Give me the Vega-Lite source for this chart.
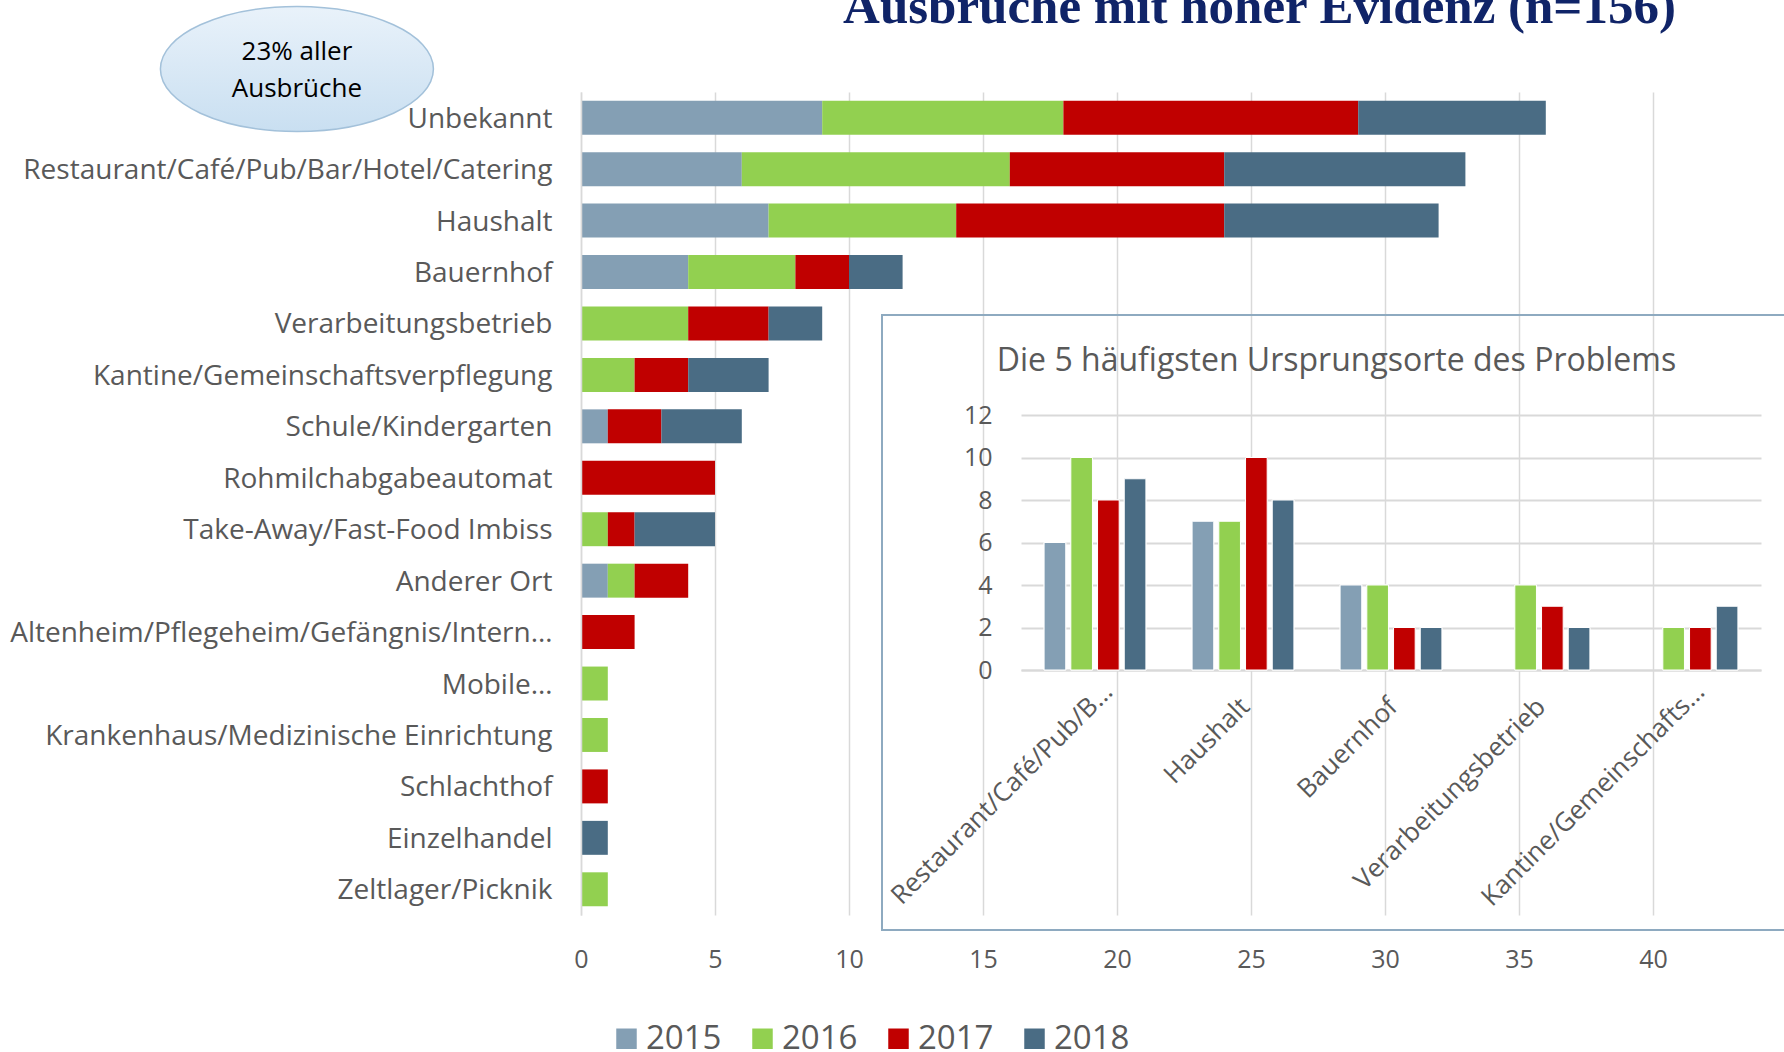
{
  "$schema": "https://vega.github.io/schema/vega-lite/v6.json",
  "width": 1072,
  "height": 823,
  "autosize": {"type": "none"},
  "padding": {"left": 581, "top": 92, "right": 131, "bottom": 137},
  "background": "white",
  "config": {"view": {"stroke": null}, "font": "Open Sans"},
  "datasets": {
    "main": [
      {"ort": "Unbekannt", "jahr": "2015", "n": 9},
      {"ort": "Unbekannt", "jahr": "2016", "n": 9},
      {"ort": "Unbekannt", "jahr": "2017", "n": 11},
      {"ort": "Unbekannt", "jahr": "2018", "n": 7},
      {"ort": "Restaurant/Café/Pub/Bar/Hotel/Catering", "jahr": "2015", "n": 6},
      {"ort": "Restaurant/Café/Pub/Bar/Hotel/Catering", "jahr": "2016", "n": 10},
      {"ort": "Restaurant/Café/Pub/Bar/Hotel/Catering", "jahr": "2017", "n": 8},
      {"ort": "Restaurant/Café/Pub/Bar/Hotel/Catering", "jahr": "2018", "n": 9},
      {"ort": "Haushalt", "jahr": "2015", "n": 7},
      {"ort": "Haushalt", "jahr": "2016", "n": 7},
      {"ort": "Haushalt", "jahr": "2017", "n": 10},
      {"ort": "Haushalt", "jahr": "2018", "n": 8},
      {"ort": "Bauernhof", "jahr": "2015", "n": 4},
      {"ort": "Bauernhof", "jahr": "2016", "n": 4},
      {"ort": "Bauernhof", "jahr": "2017", "n": 2},
      {"ort": "Bauernhof", "jahr": "2018", "n": 2},
      {"ort": "Verarbeitungsbetrieb", "jahr": "2016", "n": 4},
      {"ort": "Verarbeitungsbetrieb", "jahr": "2017", "n": 3},
      {"ort": "Verarbeitungsbetrieb", "jahr": "2018", "n": 2},
      {"ort": "Kantine/Gemeinschaftsverpflegung", "jahr": "2016", "n": 2},
      {"ort": "Kantine/Gemeinschaftsverpflegung", "jahr": "2017", "n": 2},
      {"ort": "Kantine/Gemeinschaftsverpflegung", "jahr": "2018", "n": 3},
      {"ort": "Schule/Kindergarten", "jahr": "2015", "n": 1},
      {"ort": "Schule/Kindergarten", "jahr": "2017", "n": 2},
      {"ort": "Schule/Kindergarten", "jahr": "2018", "n": 3},
      {"ort": "Rohmilchabgabeautomat", "jahr": "2017", "n": 5},
      {"ort": "Take-Away/Fast-Food Imbiss", "jahr": "2016", "n": 1},
      {"ort": "Take-Away/Fast-Food Imbiss", "jahr": "2017", "n": 1},
      {"ort": "Take-Away/Fast-Food Imbiss", "jahr": "2018", "n": 3},
      {"ort": "Anderer Ort", "jahr": "2015", "n": 1},
      {"ort": "Anderer Ort", "jahr": "2016", "n": 1},
      {"ort": "Anderer Ort", "jahr": "2017", "n": 2},
      {"ort": "Altenheim/Pflegeheim/Gefängnis/Intern…", "jahr": "2017", "n": 2},
      {"ort": "Mobile…", "jahr": "2016", "n": 1},
      {"ort": "Krankenhaus/Medizinische Einrichtung", "jahr": "2016", "n": 1},
      {"ort": "Schlachthof", "jahr": "2017", "n": 1},
      {"ort": "Einzelhandel", "jahr": "2018", "n": 1},
      {"ort": "Zeltlager/Picknik", "jahr": "2016", "n": 1}
    ],
    "top5": [
      {"ort": "Restaurant/Café/Pub/B…", "jahr": "2015", "n": 6},
      {"ort": "Restaurant/Café/Pub/B…", "jahr": "2016", "n": 10},
      {"ort": "Restaurant/Café/Pub/B…", "jahr": "2017", "n": 8},
      {"ort": "Restaurant/Café/Pub/B…", "jahr": "2018", "n": 9},
      {"ort": "Haushalt", "jahr": "2015", "n": 7},
      {"ort": "Haushalt", "jahr": "2016", "n": 7},
      {"ort": "Haushalt", "jahr": "2017", "n": 10},
      {"ort": "Haushalt", "jahr": "2018", "n": 8},
      {"ort": "Bauernhof", "jahr": "2015", "n": 4},
      {"ort": "Bauernhof", "jahr": "2016", "n": 4},
      {"ort": "Bauernhof", "jahr": "2017", "n": 2},
      {"ort": "Bauernhof", "jahr": "2018", "n": 2},
      {"ort": "Verarbeitungsbetrieb", "jahr": "2016", "n": 4},
      {"ort": "Verarbeitungsbetrieb", "jahr": "2017", "n": 3},
      {"ort": "Verarbeitungsbetrieb", "jahr": "2018", "n": 2},
      {"ort": "Kantine/Gemeinschafts…", "jahr": "2016", "n": 2},
      {"ort": "Kantine/Gemeinschafts…", "jahr": "2017", "n": 2},
      {"ort": "Kantine/Gemeinschafts…", "jahr": "2018", "n": 3}
    ]
  },
  "resolve": {
    "scale": {"x": "independent", "y": "independent"},
    "axis": {"x": "independent", "y": "independent"}
  },
  "layer": [
    {
      "layer": [
        {
          "data": {"name": "main"},
          "mark": {"type": "bar"},
          "encoding": {
            "y": {
              "field": "ort", "type": "nominal", "sort": null,
              "scale": {
                "domain": ["Unbekannt", "Restaurant/Café/Pub/Bar/Hotel/Catering", "Haushalt", "Bauernhof", "Verarbeitungsbetrieb", "Kantine/Gemeinschaftsverpflegung", "Schule/Kindergarten", "Rohmilchabgabeautomat", "Take-Away/Fast-Food Imbiss", "Anderer Ort", "Altenheim/Pflegeheim/Gefängnis/Intern…", "Mobile…", "Krankenhaus/Medizinische Einrichtung", "Schlachthof", "Einzelhandel", "Zeltlager/Picknik"],
                "paddingInner": 0.34, "paddingOuter": 0.17
              },
              "axis": {
                "orient": "left", "title": null, "domain": true, "domainColor": "#D9D9D9", "domainWidth": 1.5,
                "ticks": false, "tickSize": 0, "grid": false, "labelPadding": 29, "labelFontSize": 28, "labelColor": "#595959",
                "labelLimit": 800, "labelOffset": 2, "zindex": 1
              }
            },
            "x": {
              "field": "n", "type": "quantitative", "stack": "zero",
              "scale": {"domain": [0, 40], "nice": false, "zero": true},
              "axis": {
                "orient": "bottom", "values": [0, 5, 10, 15, 20, 25, 30, 35, 40], "grid": true, "gridColor": "#D9D9D9", "gridWidth": 1.5,
                "domain": false, "ticks": false, "tickSize": 0, "labelFlush": false, "labelPadding": 32, "labelFontSize": 25, "labelColor": "#595959",
                "title": "Ausbrüche mit hoher Evidenz (n=156)", "titleX": 678, "titleY": -893, "titleAngle": 0,
                "titleAlign": "center", "titleBaseline": "alphabetic", "titleFont": "Liberation Serif",
                "titleFontWeight": "bold", "titleFontSize": 51, "titleColor": "#102468"
              }
            },
            "color": {
              "field": "jahr", "type": "nominal",
              "scale": {"domain": ["2015", "2016", "2017", "2018"], "range": ["#849FB4", "#92D050", "#C00000", "#4A6C84"]},
              "legend": {
                "orient": "none", "legendX": 29, "legendY": 930, "direction": "horizontal", "title": null,
                "symbolType": "square", "symbolSize": 420, "symbolStrokeWidth": 0, "labelFontSize": 33,
                "labelColor": "#595959", "labelOffset": 3, "columnPadding": 24, "padding": 0, "rowPadding": 0
              }
            },
            "order": {"field": "jahr", "sort": "ascending"}
          }
        },
        {
          "data": {"values": [{}]},
          "mark": {
            "type": "point",
            "shape": "M-1,-0.357A1,0.458,0,1,0,1,-0.357A1,0.458,0,1,0,-1,-0.357Z",
            "size": 74529, "filled": true, "opacity": 1,
            "fill": {"gradient": "linear", "x1": 0, "y1": 0, "x2": 0, "y2": 1, "stops": [{"offset": 0, "color": "#E9F2FA"}, {"offset": 1, "color": "#C9DFF1"}]},
            "stroke": "#A3C1DA", "strokeWidth": 1.5
          },
          "encoding": {
            "x": {"datum": -10.6, "type": "quantitative"},
            "y": {"datum": "Unbekannt", "type": "nominal"}
          }
        },
        {
          "data": {"values": [{}]},
          "mark": {
            "type": "text", "text": ["23% aller", "Ausbrüche"], "fontSize": 26, "lineHeight": 37,
            "dy": -66, "color": "#000000", "align": "center", "baseline": "middle"
          },
          "encoding": {
            "x": {"datum": -10.6, "type": "quantitative"},
            "y": {"datum": "Unbekannt", "type": "nominal"}
          }
        }
      ]
    },
    {
      "data": {"name": "top5"},
      "resolve": {"axis": {"x": "independent", "y": "independent"}},
      "layer": [
        {
          "mark": {"type": "bar", "stroke": "white", "strokeWidth": 1},
          "encoding": {
            "x": {
              "field": "ort", "type": "nominal", "sort": null,
              "scale": {"domain": ["Restaurant/Café/Pub/B…", "Haushalt", "Bauernhof", "Verarbeitungsbetrieb", "Kantine/Gemeinschafts…"], "range": [440, 1180], "paddingInner": 0, "paddingOuter": 0},
              "axis": {
                "orient": "bottom", "offset": -245, "labelAngle": -45, "labelAlign": "right", "labelBaseline": "alphabetic",
                "labelExpr": "indexof(datum.label, '…') >= 0 ? datum.label : ''",
                "labelPadding": 23, "labelOffset": 19, "domain": true, "domainColor": "#D9D9D9", "domainWidth": 2,
                "ticks": false, "tickSize": 0, "grid": false, "labelFontSize": 26, "labelColor": "#595959", "labelLimit": 400,
                "title": "Die 5 häufigsten Ursprungsorte des Problems", "titleX": 755, "titleY": -310, "titleAngle": 0,
                "titleAlign": "center", "titleBaseline": "middle", "titleFontSize": 32, "titleFontWeight": "normal",
                "titleColor": "#595959"
              }
            },
            "xOffset": {
              "field": "jahr", "type": "nominal",
              "scale": {"domain": ["2015", "2016", "2017", "2018"], "paddingInner": 0.19, "paddingOuter": 0.865}
            },
            "y": {
              "field": "n", "type": "quantitative",
              "scale": {"domain": [0, 12], "range": [578, 323], "nice": false},
              "axis": {
                "orient": "left", "offset": -440, "values": [0, 2, 4, 6, 8, 10, 12], "grid": true, "gridColor": "#D9D9D9",
                "gridWidth": 2, "domain": false, "ticks": false, "tickSize": 0, "labelPadding": 29, "labelFontSize": 25,
                "labelColor": "#595959", "title": null
              }
            },
            "color": {"field": "jahr", "type": "nominal"}
          }
        },
        {
          "mark": {"type": "bar", "stroke": "white", "strokeWidth": 1},
          "encoding": {
            "x": {
              "field": "ort", "type": "nominal", "sort": null,
              "axis": {
                "orient": "bottom", "offset": -245, "labelAngle": -45, "labelAlign": "right", "labelBaseline": "alphabetic",
                "labelExpr": "indexof(datum.label, '…') >= 0 ? '' : datum.label",
                "labelPadding": 38, "labelOffset": 8, "domain": false,
                "ticks": false, "tickSize": 0, "grid": false, "labelFontSize": 26, "labelColor": "#595959", "labelLimit": 400,
                "title": null
              }
            },
            "xOffset": {"field": "jahr", "type": "nominal"},
            "y": {"field": "n", "type": "quantitative", "axis": null},
            "color": {"field": "jahr", "type": "nominal"}
          }
        }
      ]
    },
    {
      "data": {"values": [{"x0": 0, "x1": 1, "y0": 0, "y1": 1}]},
      "mark": {"type": "rect", "fillOpacity": 0, "stroke": "#8EAAC0", "strokeWidth": 2},
      "encoding": {
        "x": {"field": "x0", "type": "quantitative", "scale": {"domain": [0, 1], "range": [301, 1219]}, "axis": null},
        "x2": {"field": "x1"},
        "y": {"field": "y0", "type": "quantitative", "scale": {"domain": [0, 1], "range": [223, 838]}, "axis": null},
        "y2": {"field": "y1"}
      }
    }
  ]
}
